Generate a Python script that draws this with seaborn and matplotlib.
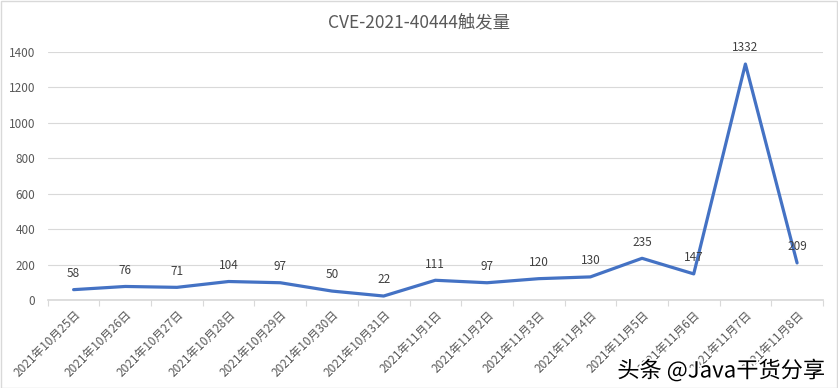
import matplotlib
matplotlib.use("Agg")
import matplotlib.pyplot as plt
import matplotlib.patheffects as pe
from matplotlib.ticker import MultipleLocator, FixedLocator
import seaborn as sns
import pandas as pd

# datos
fechas = ["2021年10月25日", "2021年10月26日", "2021年10月27日", "2021年10月28日",
          "2021年10月29日", "2021年10月30日", "2021年10月31日", "2021年11月1日",
          "2021年11月2日", "2021年11月3日", "2021年11月4日", "2021年11月5日",
          "2021年11月6日", "2021年11月7日", "2021年11月8日"]
conteo = [58, 76, 71, 104, 97, 50, 22, 111, 97, 120, 130, 235, 147, 1332, 209]
titulo = "CVE-2021-40444触发量"

df = pd.DataFrame({"fecha": fechas, "conteo": conteo})

sns.set_theme(style="white")
plt.rcParams["font.family"] = ["Noto Sans CJK SC", "DejaVu Sans"]

fig = plt.figure(figsize=(8.38, 3.88), dpi=100)
ax = fig.add_axes([0.057, 0.227, 0.925, 0.639])

sns.lineplot(data=df, x="fecha", y="conteo", ax=ax, color="#4472C4",
             linewidth=2.3, sort=False)

for i, v in enumerate(conteo):
    ax.annotate(str(v), (i, v), xytext=(0, 7), textcoords="offset points",
                ha="center", va="bottom", fontsize=8.5, color="#404040")

ax.set_ylim(0, 1400)
ax.set_xlim(-0.5, len(fechas) - 0.5)
ax.yaxis.set_major_locator(MultipleLocator(200))
ax.grid(axis="y", color="#d9d9d9", linewidth=0.8)
ax.set_axisbelow(True)
for s in ["top", "right", "left"]:
    ax.spines[s].set_visible(False)
ax.spines["bottom"].set_color("#d9d9d9")
ax.set_xlabel("")
ax.set_ylabel("")

ax.set_xticks(range(len(fechas)))
ax.set_xticklabels(fechas, rotation=45, ha="right", rotation_mode="anchor",
                   fontsize=8.5, color="#595959")
ax.tick_params(axis="x", which="major", length=0, pad=6)
ax.xaxis.set_minor_locator(FixedLocator([i - 0.5 for i in range(len(fechas) + 1)]))
ax.tick_params(axis="x", which="minor", length=4, color="#d9d9d9", width=0.8,
               bottom=True)
ax.tick_params(axis="y", length=0, labelsize=8.5, labelcolor="#595959", pad=9)

fig.text(0.5, 0.943, titulo, ha="center", va="center", fontsize=12.5,
         color="#595959")

# marca de agua
fig.text(0.985, 0.045, "头条 @Java干货分享", ha="right", va="center",
         fontsize=16, color="black",
         path_effects=[pe.withStroke(linewidth=2.5, foreground="white")])

# borde del grafico
fig.patches.append(plt.Rectangle((0.001, 0.001), 0.998, 0.997, transform=fig.transFigure,
                                 fill=False, edgecolor="#d9d9d9", linewidth=1))

fig.savefig("out.png", dpi=100)
